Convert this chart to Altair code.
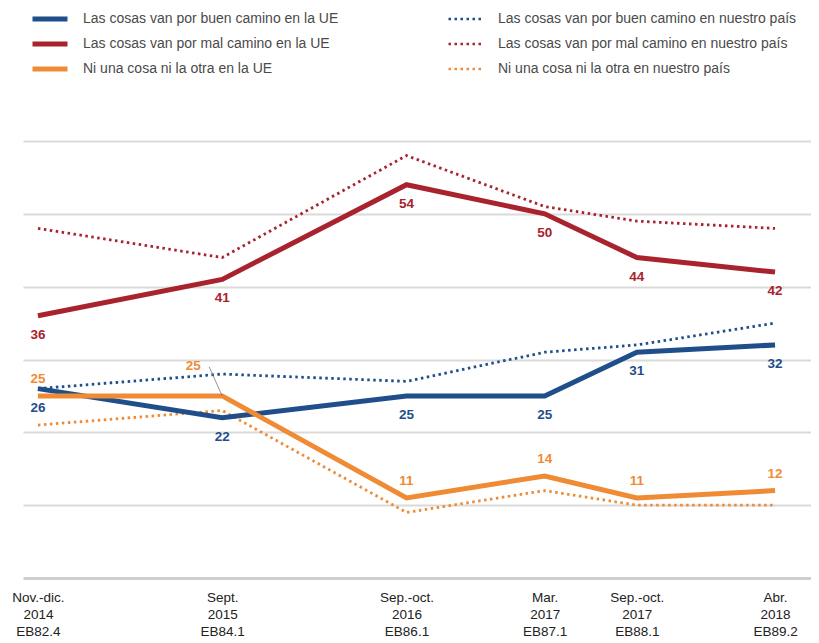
import json
import altair as alt
import pandas as pd

# ---- data ----
meses = [0, 10, 20, 27.5, 32.5, 40]
etiquetas_x = [
    ["Nov.-dic.", "2014", "EB82.4"],
    ["Sept.", "2015", "EB84.1"],
    ["Sep.-oct.", "2016", "EB86.1"],
    ["Mar.", "2017", "EB87.1"],
    ["Sep.-oct.", "2017", "EB88.1"],
    ["Abr.", "2018", "EB89.2"],
]

series_ue = [
    "Las cosas van por buen camino en la UE",
    "Las cosas van por mal camino en la UE",
    "Ni una cosa ni la otra en la UE",
]
series_pais = [
    "Las cosas van por buen camino en nuestro país",
    "Las cosas van por mal camino en nuestro país",
    "Ni una cosa ni la otra en nuestro país",
]

ue_buen = [26, 22, 25, 25, 31, 32]
ue_mal = [36, 41, 54, 50, 44, 42]
ue_ni = [25, 25, 11, 14, 11, 12]
pais_buen = [26, 28, 27, 31, 32, 35]
pais_mal = [48, 44, 58, 51, 49, 48]
pais_ni = [21, 23, 9, 12, 10, 10]

colores = ["#1f4e8a", "#a8232d", "#ef8b35"]

FONT = "Liberation Sans"

rows_ue = []
for s, vals in zip(series_ue, [ue_buen, ue_mal, ue_ni]):
    for i, (m, v) in enumerate(zip(meses, vals)):
        rows_ue.append({"mes": m, "valor": v, "serie_ue": s, "i": i})
df_ue = pd.DataFrame(rows_ue)

rows_p = []
for s, vals in zip(series_pais, [pais_buen, pais_mal, pais_ni]):
    for m, v in zip(meses, vals):
        rows_p.append({"mes": m, "valor": v, "serie_pais": s})
df_p = pd.DataFrame(rows_p)

label_expr = "{}[indexof({}, datum.value)]".format(json.dumps(etiquetas_x), json.dumps(meses))

x_enc = alt.X(
    "mes:Q",
    scale=alt.Scale(domain=[-0.81, 41.95], nice=False, zero=False),
    axis=alt.Axis(
        values=meses, labelExpr=label_expr, title=None, grid=False, ticks=False,
        domainColor="#cfcfcf", domainWidth=3, labelFont=FONT, labelFontSize=13.5,
        labelColor="#222222", labelPadding=12, labelLineHeight=17,
        labelBaseline="top", labelOverlap=False, labelFlush=False,
    ),
)
y_enc = alt.Y(
    "valor:Q",
    scale=alt.Scale(domain=[0, 60], nice=False),
    axis=alt.Axis(
        values=[10, 20, 30, 40, 50, 60], labels=False, ticks=False, domain=False,
        gridColor="#dadada", gridWidth=2, title=None,
    ),
)

legend_common = dict(
    orient="none", title=None, symbolType="stroke", symbolSize=1225,
    labelFont=FONT, labelFontSize=14, labelColor="#4a4a4a", labelOffset=13,
    labelLimit=500, clipHeight=18, rowPadding=7, direction="vertical",
)

dotted = alt.Chart(df_p).mark_line(strokeWidth=2.8, strokeDash=[2.5, 3.5]).encode(
    x=x_enc, y=y_enc,
    color=alt.Color(
        "serie_pais:N",
        scale=alt.Scale(domain=series_pais, range=colores),
        legend=alt.Legend(legendX=424, legendY=-131, symbolStrokeWidth=2.5,
                          symbolDash=[2.5, 3.5], **legend_common),
    ),
    detail="serie_pais:N",
)

solid = alt.Chart(df_ue).mark_line(strokeWidth=5).encode(
    x=x_enc, y=y_enc,
    color=alt.Color(
        "serie_ue:N",
        scale=alt.Scale(domain=series_ue, range=colores),
        legend=alt.Legend(legendX=7, legendY=-131, symbolStrokeWidth=5, **legend_common),
    ),
    detail="serie_ue:N",
)

txt_common = dict(font=FONT, fontSize=13.5, fontWeight="bold", align="center", baseline="middle")

lbl_buen = alt.Chart(df_ue).transform_filter(
    alt.datum.serie_ue == series_ue[0]
).mark_text(dy=19, color=colores[0], **txt_common).encode(
    x="mes:Q", y="valor:Q", text="valor:Q"
)
lbl_mal = alt.Chart(df_ue).transform_filter(
    alt.datum.serie_ue == series_ue[1]
).mark_text(dy=19, color=colores[1], **txt_common).encode(
    x="mes:Q", y="valor:Q", text="valor:Q"
)
lbl_ni = alt.Chart(df_ue).transform_filter(
    (alt.datum.serie_ue == series_ue[2]) & (alt.datum.i != 1)
).mark_text(dy=-17, color=colores[2], **txt_common).encode(
    x="mes:Q", y="valor:Q", text="valor:Q"
)
lbl_ni_sep = alt.Chart(df_ue).transform_filter(
    (alt.datum.serie_ue == series_ue[2]) & (alt.datum.i == 1)
).mark_text(dx=-29, dy=-30, color=colores[2], **txt_common).encode(
    x="mes:Q", y="valor:Q", text="valor:Q"
)
leader = alt.Chart(df_ue).transform_filter(
    (alt.datum.serie_ue == series_ue[2]) & (alt.datum.i == 1)
).mark_rule(color="#777777", strokeWidth=0.8, x2Offset=-13, y2Offset=-29).encode(
    x="mes:Q", y="valor:Q", x2="mes:Q", y2="valor:Q"
)

chart = (
    alt.layer(dotted, solid, leader, lbl_buen, lbl_mal, lbl_ni, lbl_ni_sep)
    .resolve_scale(color="independent")
    .properties(
        width=788, height=437,
        autosize=alt.AutoSizeParams(type="none"),
        padding={"left": 15, "top": 133, "right": 0, "bottom": 60},
        background="white",
    )
    .configure_view(stroke=None)
)

chart.save("out.html", embed_options={"renderer": "svg", "actions": False})
